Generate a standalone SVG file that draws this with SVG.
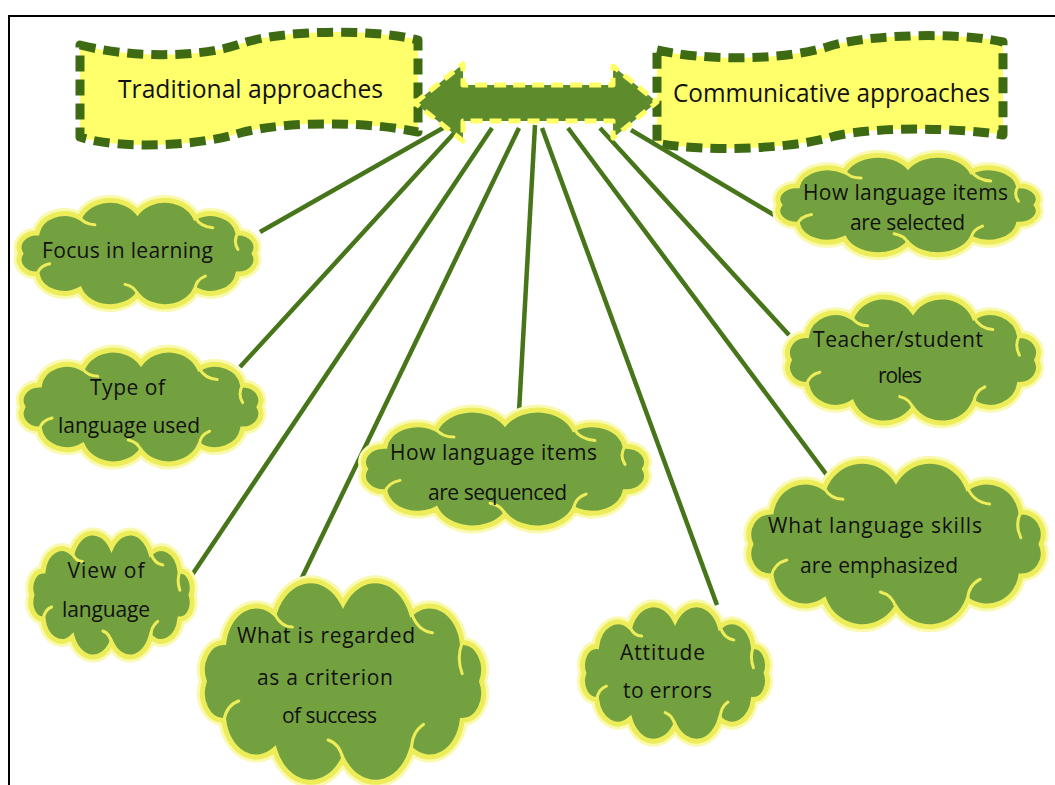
<svg xmlns="http://www.w3.org/2000/svg" width="1055" height="785" viewBox="0 0 1055 785">
<style>
.frame{fill:none;stroke:#000;stroke-width:2}
.banner{fill:#ffff6c;stroke:#3d6a12;stroke-width:9;stroke-dasharray:16 8;stroke-linejoin:round}
.hub{fill:#5e8c2c;stroke:#ffff66;stroke-width:5;stroke-dasharray:12 7;stroke-linejoin:round}
.conn line{stroke:#46751a;stroke-width:4.5}
.glow{fill:none;stroke:#f9f9b0;stroke-width:11}
.cl{fill:#74a140;stroke:#eded5a;stroke-width:5}
.ci{fill:none;stroke:#eded5a;stroke-width:3;stroke-linecap:round}
.bt{font-family:"Open Sans","Liberation Sans",sans-serif;font-size:26px;fill:#111}
.t{font-family:"Open Sans","Liberation Sans",sans-serif;font-size:21px;fill:#111;text-anchor:middle}
</style>
<defs>
<path id="cloud" vector-effect="non-scaling-stroke" d="M193,50 A14,14 0 0 1 180,70 A22,22 0 0 1 146,85 A26,26 0 0 1 100,90 A26,26 0 0 1 54,85 A22,22 0 0 1 20,70 A14,14 0 0 1 7,50 A14,14 0 0 1 20,30 A22,22 0 0 1 54,15 A26,26 0 0 1 100,10 A26,26 0 0 1 146,15 A22,22 0 0 1 180,30 A14,14 0 0 1 193,50 Z"/>
<path id="cloud-in" vector-effect="non-scaling-stroke" d="M20,70 Q22,62 30,60 M146,85 Q146,76 154,72 M180,30 Q176,38 180,46 M54,15 Q58,22 66,22 M100,90 Q98,82 90,80 M146,15 Q150,24 160,25"/>
</defs>
<rect width="1055" height="785" fill="#fff"/>
<rect class="frame" x="9" y="16" width="1070" height="800"/>

<g id="traditional">
<path class="banner" d="M80,45 C130,58 200,58 240,44 C280,30 370,28 418,40 L418,132 C370,122 290,120 240,133 C200,146 120,150 80,137 Z"/>
<text class="bt" x="118" y="98" textLength="265" lengthAdjust="spacingAndGlyphs">Traditional approaches</text>
</g>
<g id="communicative">
<path class="banner" d="M657,50 C700,60 780,62 830,46 C870,34 960,32 1003,42 L1003,135 C960,128 880,126 835,136 C790,150 700,152 657,143 Z"/>
<text class="bt" x="673" y="102" textLength="317" lengthAdjust="spacingAndGlyphs">Communicative approaches</text>
</g>

<g id="connectors" class="conn">
<line x1="443" y1="128" x2="260" y2="232"/>
<line x1="457" y1="130" x2="240" y2="367"/>
<line x1="492" y1="128" x2="190" y2="578"/>
<line x1="519" y1="128" x2="296" y2="590"/>
<line x1="535" y1="125" x2="519" y2="412"/>
<line x1="542" y1="128" x2="717" y2="605"/>
<line x1="568" y1="128" x2="838" y2="490"/>
<line x1="600" y1="128" x2="789" y2="335"/>
<line x1="631" y1="130" x2="774" y2="215"/>
</g>

<g id="hub">
<polygon class="hub" points="415,103 463,64 463,85 613,85 613,66 657,102 613,138 613,121 463,121 463,141"/>
</g>

<g id="focus">
<g transform="translate(12,202) scale(1.255,1.03)"><use href="#cloud" class="glow"/><use href="#cloud" class="cl"/><use href="#cloud-in" class="ci"/></g>
<text class="t" x="127.5" y="258" textLength="171">Focus in learning</text>
</g>
<g id="type">
<g transform="translate(14,352) scale(1.27,1.1)"><use href="#cloud" class="glow"/><use href="#cloud" class="cl"/><use href="#cloud-in" class="ci"/></g>
<text class="t" x="127.5" y="395" textLength="75">Type of</text>
<text class="t" x="129" y="433" textLength="142">language used</text>
</g>
<g id="view">
<g transform="translate(26,535) scale(0.855,1.2)"><use href="#cloud" class="glow"/><use href="#cloud" class="cl"/><use href="#cloud-in" class="ci"/></g>
<text class="t" x="106" y="578" textLength="77">View of</text>
<text class="t" x="106" y="617" textLength="88">language</text>
</g>
<g id="criterion">
<g transform="translate(194,584) scale(1.49,1.95)"><use href="#cloud" class="glow"/><use href="#cloud" class="cl"/><use href="#cloud-in" class="ci"/></g>
<text class="t" x="326" y="643" textLength="178">What is regarded</text>
<text class="t" x="325" y="685" textLength="136">as a criterion</text>
<text class="t" x="329.5" y="723" textLength="95">of success</text>
</g>
<g id="sequenced">
<g transform="translate(355,412) scale(1.5,1.14)"><use href="#cloud" class="glow"/><use href="#cloud" class="cl"/><use href="#cloud-in" class="ci"/></g>
<text class="t" x="493.5" y="460" textLength="207">How language items</text>
<text class="t" x="497.5" y="500" textLength="139">are sequenced</text>
</g>
<g id="errors">
<g transform="translate(577,607) scale(0.98,1.32)"><use href="#cloud" class="glow"/><use href="#cloud" class="cl"/><use href="#cloud-in" class="ci"/></g>
<text class="t" x="662.5" y="660" textLength="85">Attitude</text>
<text class="t" x="667.5" y="698" textLength="89">to errors</text>
</g>
<g id="skills">
<g transform="translate(740,464) scale(1.56,1.6)"><use href="#cloud" class="glow"/><use href="#cloud" class="cl"/><use href="#cloud-in" class="ci"/></g>
<text class="t" x="875" y="533" textLength="214">What language skills</text>
<text class="t" x="879" y="573" textLength="158">are emphasized</text>
</g>
<g id="roles">
<g transform="translate(780,299) scale(1.33,1.22)"><use href="#cloud" class="glow"/><use href="#cloud" class="cl"/><use href="#cloud-in" class="ci"/></g>
<text class="t" x="898" y="347" textLength="170">Teacher/student</text>
<text class="t" x="900" y="383" textLength="44">roles</text>
</g>
<g id="selected">
<g transform="translate(770,157) scale(1.38,0.96)"><use href="#cloud" class="glow"/><use href="#cloud" class="cl"/><use href="#cloud-in" class="ci"/></g>
<text class="t" x="905.5" y="200" textLength="205">How language items</text>
<text class="t" x="907.5" y="230" textLength="115">are selected</text>
</g>
</svg>
